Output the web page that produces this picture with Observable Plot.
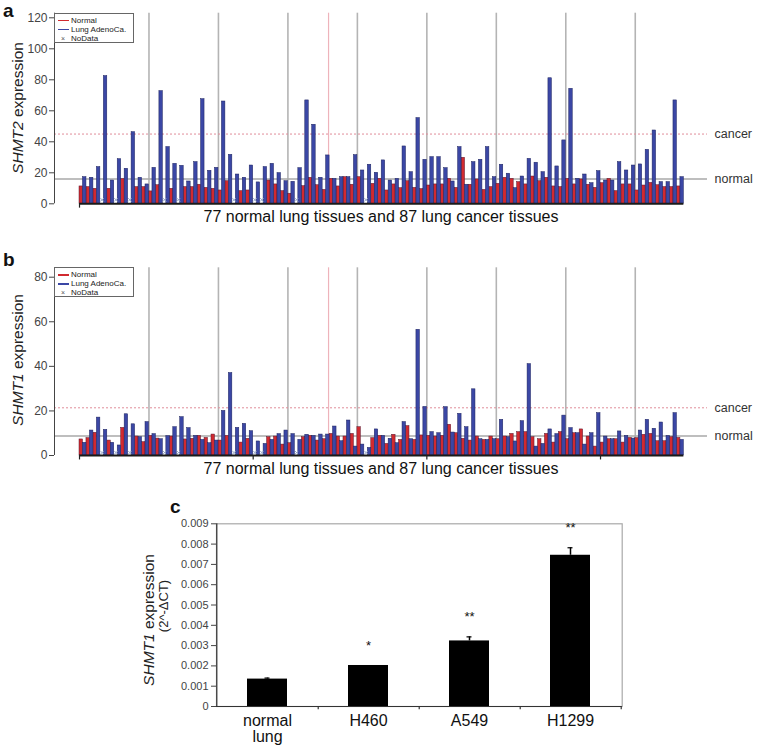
<!DOCTYPE html>
<html><head><meta charset="utf-8">
<script src="https://cdn.jsdelivr.net/npm/d3@7"></script>
<script src="https://cdn.jsdelivr.net/npm/@observablehq/plot@0.6"></script>
<style>
body{margin:0;background:#fff;font-family:'Liberation Sans',Arial,sans-serif;}
#wrap{position:relative;width:757px;height:751px;overflow:hidden;background:#fff;}
.panel{position:absolute;left:0;}
.letter{position:absolute;font-weight:bold;font-size:19px;line-height:19px;color:#111;}
.ylab{position:absolute;transform:translate(-50%,-50%) rotate(-90deg);white-space:nowrap;color:#222;line-height:1;}
.xlab{position:absolute;transform:translateX(-50%);white-space:nowrap;font-size:16px;line-height:16px;color:#111;}
.legend{position:absolute;width:80px;height:30px;border:1px solid #666;background:#fff;font-size:8px;color:#222;box-sizing:border-box;}
.legend .row{position:absolute;left:0;height:9px;line-height:9px;white-space:nowrap;}
.legend .sw{position:absolute;left:3px;top:4px;width:11px;height:1.5px;}
.legend .tx{position:absolute;left:16px;top:0;}
.legend .mk{position:absolute;left:6px;top:0;color:#555;font-size:7px;}
</style></head>
<body><div id="wrap"></div>
<script>
// ---------- data ----------
const shmt2Normal = [11.2,10.8,9.7,null,9.7,null,16,null,10.8,10.8,
  8,12,null,9.7,null,10.8,10.8,12.3,10.3,9.7,
  8.6,14.6,null,8.2,8.6,null,null,15,12.5,8.2,
  6.5,null,11.4,16.8,12,9,16.1,11.2,17.2,12.3,
  17.2,null,12.9,16.1,8.6,12.5,10.1,14.6,10.3,9.5,
  11.8,12.5,12.5,16.1,10.3,29.7,12.3,15.7,9,10.8,
  12.9,16.8,16.1,14,12.5,17.6,14.6,16.8,11.2,10.8,
  16.1,12.5,15.7,12.3,10.3,13.3,16.1,8.2,12.5,12.5,
  8.6,11.8,13.5,12,10.8,10.8,11.2];
const shmt2Cancer = [17.2,16.8,23.7,82.4,15,28.8,22.6,46.2,16.8,12.5,
  23.2,72.7,36.6,25.8,24.5,14.4,26.9,67.5,21.3,23.2,
  66,31.6,18.9,16.8,24.7,13.8,23.7,25.8,19.8,14.6,
  14.2,23,66.7,51,16.8,31.2,16.1,17.2,17.2,31.4,
  21.5,25.2,20,28,15,16.1,37,20.4,55.3,28.4,
  30.1,30.1,23,14.4,36.6,12.3,26.9,28.4,36.6,17.2,
  25.2,19.4,10.1,17.6,29,26.5,20.4,81,24.1,40.9,
  74.2,16.1,18.9,13.3,21.1,15,15,26.9,21.5,24.7,
  25.4,34.8,47.3,14,14,66.7,17.2];
const shmt1Normal = [7.2,7.8,10.2,null,6.7,null,12.4,null,8.5,6,
  8.8,7.6,null,8.5,null,7.2,7.5,8.8,7.9,9.4,
  6.7,8.8,null,5.8,7.5,null,null,8.2,8.5,4.9,
  5.5,null,8.2,8.8,6.7,7.3,9.7,8.5,8.5,9.7,
  12.7,null,7.8,8.8,5.2,9.3,7,13.2,7,9,
  8.8,8.5,8.8,13.8,10,7.5,6.7,8.5,7,8.5,
  7.3,8.5,9.7,10.5,10.5,8.2,7.3,9.7,5.8,10.5,
  7.3,10,11.7,8.5,4,5.8,7.3,7.3,5.8,7.9,
  7.8,9.3,9.7,6.4,6.4,8.2,7.9];
const shmt1Cancer = [5.7,11.2,17,11.5,5.7,4.5,18.5,14,8.2,15,
  9.6,7.3,8.7,12.7,17.2,12.3,8.8,7,5.5,6.7,
  20,37,12.4,14.2,10.9,6.3,5.2,7,9.6,11.2,
  9.6,7,9.3,8.8,9.4,9.4,13,6.4,15.7,4,
  4.9,3.4,11.7,8.8,7.5,5.5,15,7.3,56.4,21.8,
  10.5,10,21.7,10.3,18.7,12.7,29.7,7.3,7,7.3,
  16,8.2,6.3,15.4,41,4,5.2,11.7,9.6,17.9,
  12.3,10,4.9,10,19,8.5,7.3,10.8,8.8,7.6,
  11.2,16,12,14.8,8.8,19,7];
const groupLines = [10,20,30,40,50,60,70,80];
const highlightLine = [35.85];
const shmt2Levels = {normal: 16, cancer: 45};
const shmt1Levels = {normal: 8.8, cancer: 21.4};
const shmt2Ticks = [0,20,40,60,80,100,120];
const shmt1Ticks = [0,20,40,60,80];
const sampleTicksA = [0];
const sampleTicksB = [0,25,50,75];
const xLabel = "77 normal lung tissues and 87 lung cancer tissues";

const cellLines = ["normal\nlung","H460","A549","H1299"];
const cellValues = [0.00135,0.00202,0.00323,0.00745];
const cellErrors = [0.00005,0,0.0002,0.00037];
const cellStars = ["","*","**","**"];
const cTicks = [0,0.001,0.002,0.003,0.004,0.005,0.006,0.007,0.008,0.009];

// ---------- layout ----------
const W = 757;
const xDomain = [-3.6, 90.4];
const RED = "#d12a30", BLUE = "#3b47a5";
const wrap = document.getElementById("wrap");

function add(html){ wrap.insertAdjacentHTML("beforeend", html); }

function panel(normal, cancer, o){
  const nRows = normal.map((v,i)=>({i,v})).filter(d=>d.v!=null);
  const cRows = cancer.map((v,i)=>({i,v}));
  const missing = normal.map((v,i)=>({i,v})).filter(d=>d.v==null);
  const levels = [{l:"cancer", v:o.levels.cancer},{l:"normal", v:o.levels.normal}];
  const svg = Plot.plot({
    width: W, height: o.height,
    marginLeft: 54, marginRight: 50, marginTop: o.mt, marginBottom: o.mb,
    x: {domain: xDomain, axis: null},
    y: {domain: o.yDomain, range: o.yRange, axis: null},
    style: {fontFamily: "'Liberation Sans', Arial, sans-serif", fontSize: "11px", overflow: "visible", background: "transparent"},
    marks: [
      Plot.ruleX(groupLines, {stroke: "#b4b4b4", strokeWidth: 1.6}),
      Plot.ruleX(highlightLine, {stroke: "#eeb3bb", strokeWidth: 1.2}),
      Plot.ruleY([o.levels.normal], {stroke: "#a8a8a8", strokeWidth: 1.5}),
      Plot.ruleY([o.levels.cancer], {stroke: "#e08d99", strokeWidth: 1, strokeDasharray: "2,2"}),
      Plot.rect(nRows, {x1: d=>d.i, x2: d=>d.i+0.5, y1: 0, y2: "v", fill: RED, stroke: "#5a1830", strokeWidth: 0.5}),
      Plot.rect(cRows, {x1: d=>d.i+0.5, x2: d=>d.i+1, y1: 0, y2: "v", fill: BLUE, stroke: "#1c225e", strokeWidth: 0.5}),
      Plot.dot(missing, {x: d=>d.i+0.25, y: o.markY, symbol: "times", r: 1.7, stroke: "#97a6c8", strokeWidth: 1}),
      Plot.ruleY([0], {x1: 0, x2: 87, stroke: "#1a1a1a", strokeWidth: 2}),
      Plot.ruleX(o.sampleTicks, {y1: 0, y2: o.tickDown, stroke: "#222", strokeWidth: 1.2}),
      Plot.ruleX([xDomain[0]], {stroke: "#444", strokeWidth: 1}),
      Plot.axisY({ticks: o.ticks, tickSize: 5, tickPadding: 2, color: "#444", fontSize: 12, label: null}),
      Plot.text(levels, {x: xDomain[1], y: "v", text: "l", dx: 7, textAnchor: "start", fontSize: 12.5, fill: "#333"})
    ]
  });
  svg.style.position = "absolute"; svg.style.left = "0px"; svg.style.top = o.top + "px";
  wrap.appendChild(svg);
}

panel(shmt2Normal, shmt2Cancer, {top: 0, height: 228, mt: 12.7, mb: 24.7,
  yDomain: [0,120], yRange: [203.3, 17.3], levels: shmt2Levels, ticks: shmt2Ticks,
  markY: 2.6, sampleTicks: sampleTicksA, tickDown: -2.8});
panel(shmt1Normal, shmt1Cancer, {top: 230, height: 250, mt: 37.3, mb: 25,
  yDomain: [0,80], yRange: [225, 46.7], levels: shmt1Levels, ticks: shmt1Ticks,
  markY: 1.3, sampleTicks: sampleTicksB, tickDown: -2});

// panel c
{
  const mL = 216, mR = 135.3;
  const step = (W - mL - mR) / cellLines.length;
  const rows = cellLines.map((c,k)=>({c, v: cellValues[k], e: cellErrors[k], s: cellStars[k]}));
  const errRows = rows.filter(d=>d.e>0);
  const svg = Plot.plot({
    width: W, height: 261, marginLeft: mL, marginRight: mR, marginTop: 33.3, marginBottom: 45,
    x: {domain: cellLines, paddingInner: 0.6, paddingOuter: 0.3, axis: null},
    y: {domain: [0, 0.009], axis: null},
    style: {fontFamily: "'Liberation Sans', Arial, sans-serif", fontSize: "11px", overflow: "visible", background: "transparent"},
    marks: [
      Plot.frame({stroke: "#a9a9a9", strokeWidth: 1.2}),
      Plot.barY(rows, {x: "c", y: "v", fill: "#000"}),
      Plot.ruleX(errRows, {x: "c", y1: "v", y2: d=>d.v+d.e, stroke: "#000", strokeWidth: 1.5}),
      Plot.tickY(errRows, {x: "c", y: d=>d.v+d.e, insetLeft: 17.5, insetRight: 17.5, stroke: "#000", strokeWidth: 1.2}),
      Plot.text(rows, {x: "c", y: d=>d.v+d.e, text: "s", dy: -20, fontSize: 13, fill: "#111"}),
      Plot.ruleY([0], {stroke: "#333", strokeWidth: 1.2}),
      Plot.ruleX([cellLines[0]], {dx: -step/2, stroke: "#333", strokeWidth: 1.2}),
      Plot.ruleX(cellLines, {dx: step/2, y1: 0, y2: -0.00016, stroke: "#333", strokeWidth: 1.2}),
      Plot.axisY({ticks: cTicks, tickFormat: d => d === 0 ? "0" : d3.format(".3f")(d), tickSize: 5, tickPadding: 3, color: "#444", fontSize: 11, label: null}),
      Plot.axisX({tickSize: 0, tickPadding: 8, fontSize: 16, color: "#111", label: null})
    ]
  });
  svg.style.position = "absolute"; svg.style.left = "0px"; svg.style.top = "490px";
  wrap.appendChild(svg);
}

// ---------- text & legends ----------
function legend(top){
  add(`<div class="legend" style="left:54px;top:${top}px">
    <div class="row" style="top:2px"><div class="sw" style="background:${RED}"></div><span class="tx">Normal</span></div>
    <div class="row" style="top:11px"><div class="sw" style="background:${BLUE}"></div><span class="tx">Lung AdenoCa.</span></div>
    <div class="row" style="top:20px"><span class="mk">×</span><span class="tx">NoData</span></div>
  </div>`);
}
legend(12.7);
legend(267.3);

add(`<div class="letter" style="left:3px;top:1px">a</div>`);
add(`<div class="letter" style="left:3px;top:250px">b</div>`);
add(`<div class="letter" style="left:170px;top:497px">c</div>`);

add(`<div class="ylab" style="left:18px;top:108px;font-size:15.5px"><i>SHMT2</i> expression</div>`);
add(`<div class="ylab" style="left:18px;top:360px;font-size:15.5px"><i>SHMT1</i> expression</div>`);
add(`<div class="ylab" style="left:149px;top:620px;font-size:15.5px"><i>SHMT1</i> expression</div>`);
add(`<div class="ylab" style="left:163px;top:606px;font-size:13px">(2^-ΔCT)</div>`);

add(`<div class="xlab" style="left:381px;top:209px">${xLabel}</div>`);
add(`<div class="xlab" style="left:381px;top:461px">${xLabel}</div>`);
</script>
</body></html>
